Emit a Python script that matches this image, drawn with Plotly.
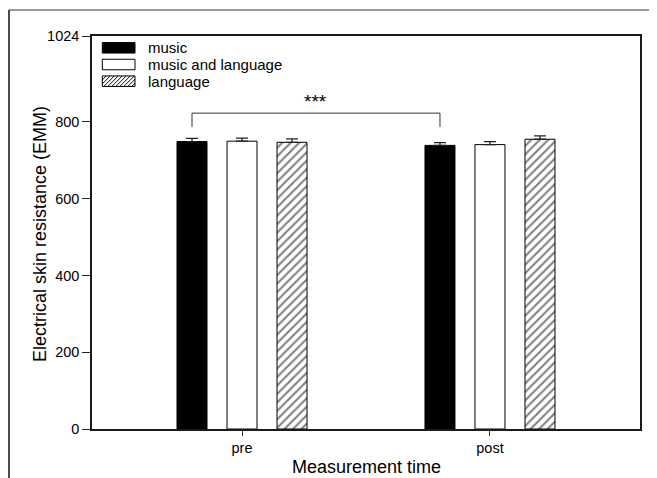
import plotly.graph_objects as go

# ---- data ----
times = ["pre", "post"]
groups = ["music", "music and language", "language"]
music = [749, 739]
music_err = [8, 7]
music_lang = [750, 741]
music_lang_err = [8, 8]
language = [747, 755]
language_err = [9, 9]
y_ticks = [0, 200, 400, 600, 800, 1024]
bracket_top = 823
bracket_leg = 787
sig_label = "***"

# ---- layout constants (page body adds an 8px offset at top-left) ----
OFF = 8
WIN_W, WIN_H = 657, 478
W, H = WIN_W - OFF, WIN_H - OFF
PL, PR, PT, PB = 92, 640, 36, 429          # plot box in window pixels
ML, MR, MT, MB = PL - OFF, WIN_W - PR, PT - OFF, WIN_H - PB
PW, PH = PR - PL, PB - PT
BARGAP = 0.395
BARGROUPGAP = 0.4
FONT = "Arial, Liberation Sans, sans-serif"


def px_x(px):
    return (px - PL) / PW


def px_y(py):
    return (PB - py) / PH


fig = go.Figure()
series = [
    (groups[0], music, music_err, dict(color="black", line=dict(color="black", width=1))),
    (groups[1], music_lang, music_lang_err, dict(color="white", line=dict(color="black", width=1))),
    (groups[2], language, language_err,
     dict(color="white", line=dict(color="black", width=1),
          pattern=dict(shape="/", fgcolor="black", bgcolor="white", size=6, solidity=0.35))),
]
for name, vals, errs, marker in series:
    fig.add_trace(go.Bar(
        x=times, y=vals, name=name, marker=marker,
        error_y=dict(type="data", symmetric=False, array=errs, arrayminus=[0] * len(errs),
                     color="#222", thickness=1.3, width=6),
        showlegend=False,
    ))

# significance bracket between "music" bars at pre and post
slot = (1 - BARGAP) / len(groups)
off_music = -(1 - BARGAP) / 2 + slot / 2
x0 = 0 + off_music
x1 = 1 + off_music
fig.add_shape(type="path",
              path=f"M {x0},{bracket_leg} L {x0},{bracket_top} L {x1},{bracket_top} L {x1},{bracket_leg}",
              xref="x", yref="y", line=dict(color="#333", width=1))
fig.add_annotation(x=(x0 + x1) / 2, y=bracket_top, xref="x", yref="y", text=sig_label,
                   showarrow=False, yanchor="bottom", yshift=-1,
                   font=dict(family=FONT, size=19, color="black"))

# custom legend (wide swatches like the original)
rows = [47.8, 64.5, 81.2]
bx0, bx1 = 102.3, 135
bh = 10.5
fills = ["black", "white", "white"]
for i, (name, fill) in enumerate(zip(groups, fills)):
    cy = rows[i]
    fig.add_shape(type="rect", xref="paper", yref="paper",
                  x0=px_x(bx0), x1=px_x(bx1), y0=px_y(cy + bh / 2), y1=px_y(cy - bh / 2),
                  fillcolor=fill, line=dict(color="black", width=1))
    fig.add_annotation(xref="paper", yref="paper", x=px_x(146), y=px_y(cy),
                       xanchor="left", yanchor="middle", text=name, showarrow=False,
                       font=dict(family=FONT, size=15, color="black"))
# hatch lines in third swatch
cy = rows[2]
top, bot = cy - bh / 2, cy + bh / 2
segs = []
k = bx0 - bh
while k < bx1:
    xa, ya = k, bot
    xb, yb = k + bh, top
    if xa < bx0:
        ya = bot - (bx0 - xa)
        xa = bx0
    if xb > bx1:
        yb = top + (xb - bx1)
        xb = bx1
    if xb > xa:
        segs.append(f"M {px_x(xa)},{px_y(ya)} L {px_x(xb)},{px_y(yb)}")
    k += 4
fig.add_shape(type="path", xref="paper", yref="paper", path=" ".join(segs),
              line=dict(color="black", width=1))

# outer frame lines of the original figure
fig.add_shape(type="line", xref="paper", yref="paper",
              x0=px_x(9), x1=px_x(700), y0=px_y(10), y1=px_y(10),
              line=dict(color="#777", width=1.5))
fig.add_shape(type="line", xref="paper", yref="paper",
              x0=px_x(9), x1=px_x(9), y0=px_y(10), y1=px_y(500),
              line=dict(color="#111", width=1.5))

# axis titles placed like the original
fig.add_annotation(xref="paper", yref="paper", x=px_x(40), y=px_y(234),
                   text="Electrical skin resistance (EMM)", textangle=-90, showarrow=False,
                   xanchor="center", yanchor="middle",
                   font=dict(family=FONT, size=18, color="black"))
fig.add_annotation(xref="paper", yref="paper", x=px_x(366), y=px_y(467),
                   text="Measurement time", showarrow=False,
                   xanchor="center", yanchor="middle",
                   font=dict(family=FONT, size=18, color="black"))

fig.update_layout(
    width=W, height=H, autosize=False,
    margin=dict(l=ML, r=MR, t=MT, b=MB, autoexpand=False),
    paper_bgcolor="white", plot_bgcolor="white",
    barmode="group", bargap=BARGAP, bargroupgap=BARGROUPGAP,
    font=dict(family=FONT, color="black"),
    showlegend=False,
)
fig.update_xaxes(
    type="category", range=[-0.605, 1.605], automargin=False,
    showline=True, mirror=True, linecolor="#1a1a1a", linewidth=1.5,
    ticks="outside", ticklen=5, tickwidth=1, tickcolor="#333",
    tickfont=dict(family=FONT, size=14.5, color="black"),
    showgrid=False, zeroline=False,
)
fig.update_yaxes(
    range=[0, 1024], tickvals=y_ticks, ticktext=[str(t) for t in y_ticks], automargin=False,
    showline=True, mirror=True, linecolor="#1a1a1a", linewidth=1.5,
    ticks="outside", ticklen=8, tickwidth=1.2, tickcolor="#222",
    tickfont=dict(family=FONT, size=14.5, color="black"),
    showgrid=False, zeroline=False,
)

fig.write_html("out.html")
